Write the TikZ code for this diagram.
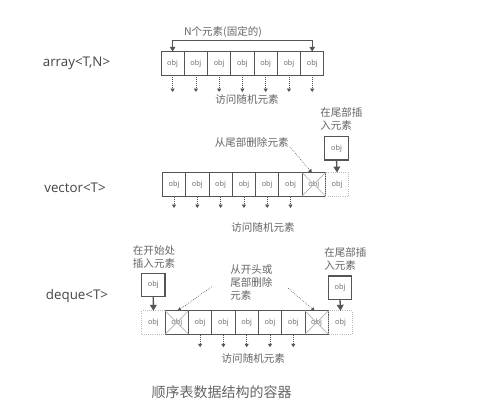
\documentclass[tikz,border=0pt]{standalone}
\usepackage{fontspec}
\setmainfont{Open Sans}
\newfontfamily\cjk{Noto Sans CJK SC}
\usetikzlibrary{arrows.meta,calc}
\definecolor{ln}{HTML}{555555}
\definecolor{tx}{HTML}{444444}
\definecolor{lt}{HTML}{666666}
\begin{document}
\begin{tikzpicture}[x=0.75pt,y=-0.75pt,
  cell/.style={draw=ln, line width=0.6pt, minimum width=17.45pt, minimum height=17.5pt,
    inner sep=0pt, outer sep=0pt, font=\fontsize{5.5}{6}\selectfont, text=lt},
  ghost/.style={cell, draw=gray!55, densely dotted},
  insbox/.style={cell, line width=0.9pt},
  lab/.style={font=\cjk\fontsize{7.9}{9.4}\selectfont, text=lt, inner sep=0pt},
  tname/.style={font=\fontsize{10}{12}\selectfont, text=tx, inner sep=0pt},
  dotarr/.style={ln, densely dotted, line width=0.5pt, -{Triangle[width=3pt,length=2.5pt]}},
  insarr/.style={ln, line width=1pt, -{Triangle[width=5pt,length=4.5pt]}},
  brk/.style={ln, line width=0.7pt, {Triangle[width=4pt,length=3.5pt]}-{Triangle[width=4pt,length=3.5pt]}},
  xline/.style={gray!60, line width=0.5pt}]
\useasboundingbox[fill=white] (0,0) rectangle (489,409);

% ---------- array ----------
\node[tname] (an) at (76.5,63) {array<T,N>};
\foreach \i in {1,...,7}{
  \node[cell] (a\i) at ({172.6+23.27*(\i-1)},63.3) {obj};
  \draw[dotarr] (a\i.south) ++(0,2) -- ++(0,15) coordinate (ae\i);
}
\coordinate (ab) at (240,40.7);
\draw[brk] (a1.north) |- (ab) -| (a7.north);
\node[lab] (acnt) at (223,32) {N个元素(固定的)};
\node[lab] (arnd) at (247,100) {访问随机元素};

% ---------- vector ----------
\node[tname] (vn) at (75,188) {vector<T>};
\foreach \i in {1,...,7}{
  \node[cell] (v\i) at ({174+23.3*(\i-1)},184.3) {obj};
}
\node[ghost] (v8) at (337.1,184.3) {obj};
\draw[xline] (v7.north west) -- (v7.south east) (v7.north east) -- (v7.south west);
\foreach \i in {1,...,6}{
  \draw[dotarr] (v\i.south) ++(0,1) -- ++(0,11) coordinate (ve\i);
}
\node[insbox] (vins) at (336.5,148.3) {obj};
\draw[insarr] (vins.south) -- (v8.north);
\node[lab, align=left, anchor=west] (vinsl) at (320,119.2) {在尾部插\\入元素};
\node[lab] (vdel) at (251.7,142.7) {从尾部删除元素};
\coordinate (vds) at (290,147);
\draw[dotarr] (vds) -- ($(v7.north)+(-2,0)$);
\node[lab] (vrnd) at (263,228) {访问随机元素};

% ---------- deque ----------
\node[tname] (dn) at (77,295.7) {deque<T>};
\node[ghost] (d0) at (153.4,322.5) {obj};
\foreach \i in {1,...,7}{
  \node[cell] (d\i) at ({176.8+23.3*(\i-1)},322.5) {obj};
}
\node[ghost] (d8) at (340.5,322.5) {obj};
\foreach \k in {1,7}{
  \draw[xline] (d\k.north west) -- (d\k.south east) (d\k.north east) -- (d\k.south west);
}
\foreach \i in {2,...,6}{
  \draw[dotarr] (d\i.south) ++(0,1) -- ++(0,12) coordinate (de\i);
}
\node[insbox] (dinsL) at (153.3,285) {obj};
\draw[insarr] (dinsL.south) -- (d0.north);
\node[insbox] (dinsR) at (340,287.7) {obj};
\draw[insarr] (dinsR.south) -- (d8.north);
\node[lab, align=center] (dinsLl) at (154,257) {在开始处\\插入元素};
\node[lab, align=left, anchor=west] (dinsRl) at (324,259) {在尾部插\\入元素};
\node[lab, align=left, anchor=west] (ddel) at (230,282.5) {从开头或\\尾部删除\\元素};
\coordinate (dlL) at (211.7,286.7);
\coordinate (dlR) at (288.3,288.3);
\draw[dotarr] (dlL) -- ($(d1.north)+(1,0)$);
\draw[dotarr] (dlR) -- ($(d7.north)+(-2,0)$);
\node[lab] (drnd) at (253.3,358.3) {访问随机元素};

% ---------- caption ----------
\node[font=\cjk\fontsize{10.5}{12}\selectfont, text=lt, inner sep=0pt] (cap) at (221.7,391.7) {顺序表数据结构的容器};
\end{tikzpicture}
\end{document}
